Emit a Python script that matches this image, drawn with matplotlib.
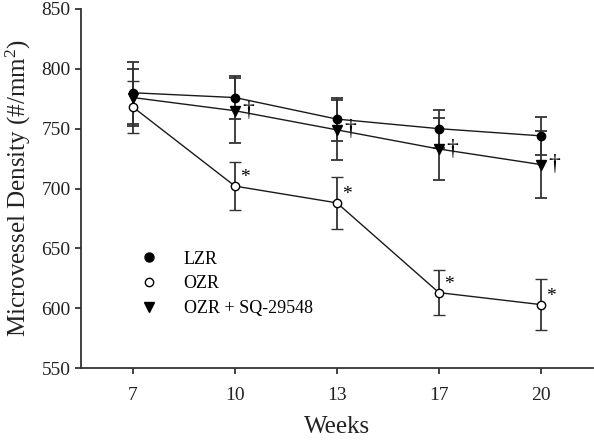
import matplotlib
matplotlib.use("Agg")
import matplotlib.pyplot as plt
import numpy as np
from matplotlib.lines import Line2D

weeks = ["7", "10", "13", "17", "20"]
lzr = [780, 776, 758, 750, 744]
lzr_err = [26, 18, 18, 16, 16]
ozr = [768, 702, 688, 613, 603]
ozr_err = [22, 20, 22, 19, 21]
sq = [776, 765, 749, 733, 720]
sq_err = [24, 27, 25, 26, 28]
ozr_sig = ["", "*", "*", "*", "*"]
sq_sig = ["", "†", "†", "†", "†"]

plt.rcParams['font.family'] = ['Liberation Serif', 'DejaVu Serif']
plt.rcParams['mathtext.fontset'] = 'custom'
plt.rcParams['mathtext.rm'] = 'Liberation Serif'
plt.rcParams['mathtext.it'] = 'Liberation Serif:italic'

fig = plt.figure(figsize=(5.94, 4.41), dpi=100)
ax = fig.add_axes([0.1364, 0.1655, 0.8616, 0.8141])
x = np.arange(len(weeks))
col = '#1a1a1a'
ekw = dict(ecolor='#333333', elinewidth=1.3, capsize=4.5, capthick=1.3)

ax.errorbar(x, lzr, yerr=lzr_err, color=col, lw=1.0, marker='o', ms=6,
            mfc='black', mec='black', label='LZR', zorder=3, **ekw)
ax.errorbar(x, ozr, yerr=ozr_err, color=col, lw=1.0, marker='o', ms=6,
            mfc='white', mec='black', mew=1.0, label='OZR', zorder=3, **ekw)
ax.errorbar(x, sq, yerr=sq_err, color=col, lw=1.0, marker='v', ms=7,
            mfc='black', mec='black', label='OZR + SQ-29548', zorder=3, **ekw)

for xi, yi, s in zip(x, ozr, ozr_sig):
    if s:
        ax.annotate(s, (xi, yi), xytext=(7, 6), textcoords='offset points',
                    fontsize=14, ha='center', va='center')
for xi, yi, s in zip(x, sq, sq_sig):
    if s:
        ax.annotate(s, (xi, yi), xytext=(9.5, 0), textcoords='offset points',
                    fontsize=17, ha='center', va='center')

ax.set_xlim(-0.51, 4.51)
ax.set_ylim(550, 850)
ax.set_xticks(x)
ax.set_xticklabels(weeks)
ax.set_yticks(np.arange(550, 851, 50))
ax.tick_params(direction='out', length=4, width=1.2, labelsize=14, colors='#222222')
for s in ['top', 'right']:
    ax.spines[s].set_visible(False)
for s in ['left', 'bottom']:
    ax.spines[s].set_linewidth(1.3)
    ax.spines[s].set_color('#333333')
ax.tick_params(axis='x', pad=10)

ax.set_xlabel('Weeks', fontsize=18, labelpad=8, color='#222222')
ax.set_ylabel('Microvessel Density (#/mm$^2$)', fontsize=18, color='#222222', labelpad=6)

handles = [Line2D([], [], ls='none', marker='o', ms=6.5, mfc='black', mec='black'),
           Line2D([], [], ls='none', marker='o', ms=6, mfc='white', mec='black'),
           Line2D([], [], ls='none', marker='v', ms=6.5, mfc='black', mec='black')]
ax.legend(handles, ['LZR', 'OZR', 'OZR + SQ-29548'], loc='upper left',
          bbox_to_anchor=(0.084, 0.372), frameon=False, fontsize=13,
          handlelength=1.0, handletextpad=1.4, labelspacing=0.42)

fig.savefig('out.png', dpi=100)
